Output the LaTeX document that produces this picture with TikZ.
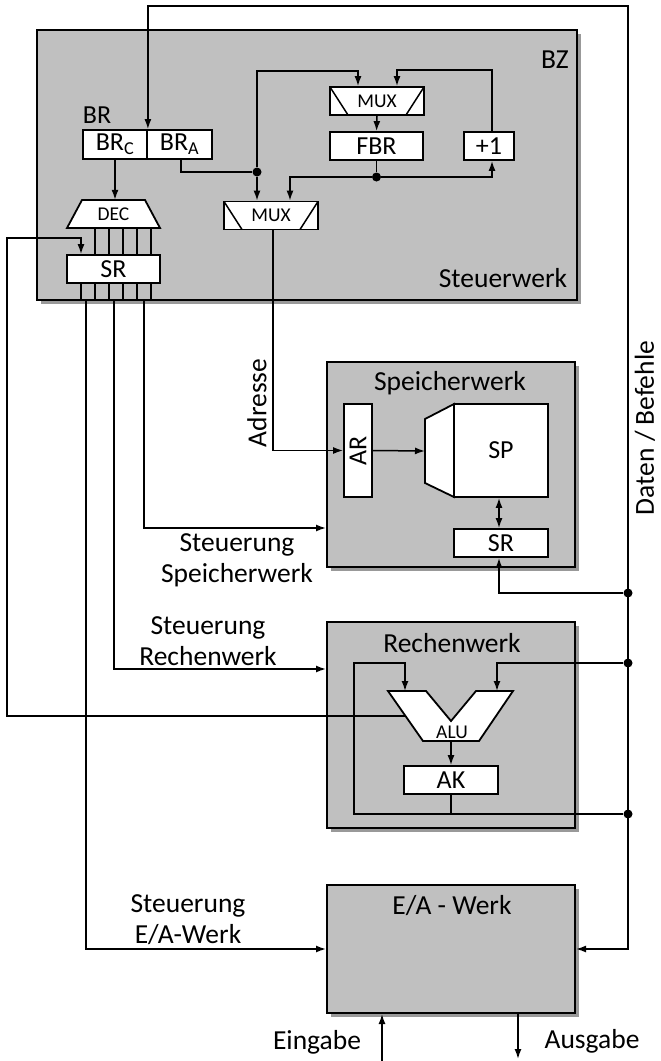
\documentclass[tikz,border=0pt]{standalone}
\usepackage{fontspec}
\setmainfont{Carlito}
\usepackage{graphicx}
\usepackage{tikz}
\usetikzlibrary{arrows.meta, positioning, shadows}
\usepackage{xcolor}

\definecolor{werkgray}{RGB}{192,192,192}
\newcommand{\labelfont}{\fontsize{27.5}{31}\selectfont}
\newcommand{\regfont}{\fontsize{26}{30}\selectfont}
\newcommand{\smallfont}{\fontsize{19.5}{22}\selectfont}

\begin{document}
\begin{tikzpicture}[
    x=1pt, y=-1pt,
    werk/.style={rectangle, draw, line width=2pt, fill=werkgray,
                 drop shadow={shadow xshift=4pt, shadow yshift=-4pt, fill=black!40, opacity=1}},
    reg/.style={rectangle, draw, line width=1.8pt, fill=white, inner sep=0pt, font=\regfont},
    mux/.style={reg, font=\smallfont, minimum width=94pt, minimum height=28pt,
                path picture={
                  \draw[line width=1.5pt] (path picture bounding box.north west) -- ([xshift=18pt]path picture bounding box.south west);
                  \draw[line width=1.5pt] (path picture bounding box.north east) -- ([xshift=-18pt]path picture bounding box.south east);}},
    outline/.style={draw, line width=1.8pt, fill=white},
    lbl/.style={font=\labelfont, inner sep=0pt, align=center},
    wire/.style={line width=1.5pt},
    arrow/.style={wire, -{Latex[length=10pt, width=7pt]}},
    biarrow/.style={wire, {Latex[length=10pt, width=7pt]}-{Latex[length=10pt, width=7pt]}},
    junction/.style={circle, fill, inner sep=0pt, minimum size=9pt}
]
\useasboundingbox (0,0) rectangle (661,1061);

% Werke
\node[werk, minimum width=540pt, minimum height=270pt] (stw) at (307,165) {};
\node[werk, minimum width=248pt, minimum height=205pt] (spw) at (451,464.5) {};
\node[werk, minimum width=248pt, minimum height=206pt] (rw) at (451,725) {};
\node[werk, minimum width=248pt, minimum height=128pt] (eaw) at (451,949) {};

\node[lbl] at (555,60) {BZ};
\node[lbl] at (503,278) {Steuerwerk};
\node[lbl] at (450,383) {Speicherwerk};
\node[lbl] at (452,643) {Rechenwerk};
\node[lbl] at (452,906) {E/A - Werk};

% Steuerwerk
\node[lbl, font=\regfont] at (97,115) {BR};
\node[reg, minimum width=64pt, minimum height=29pt] (brc) at (115,144.5) {BR\textsubscript{C}};
\node[reg, minimum width=65pt, minimum height=29pt] (bra) at (179.5,144.5) {BR\textsubscript{A}};

\node[mux] (muxa) at (377,101) {MUX};
\node[reg, minimum width=93pt, minimum height=28pt] (fbr) at (376.5,146) {FBR};
\node[reg, minimum width=50pt, minimum height=28pt] (inc) at (489,146) {+1};
\node[mux] (muxb) at (271,215.5) {MUX};

\draw[outline] (82,200) -- (145,200) -- (160,228) -- (67,228) -- cycle;
\node[font=\smallfont, inner sep=0pt, minimum width=93pt, minimum height=28pt] (dec) at (113.5,214) {DEC};
\node[reg, minimum width=93pt, minimum height=28pt] (srs) at (113.5,269) {SR};

\foreach \x in {95,109,123,137,151}
    \draw[wire] (\x,228) -- (\x,255);
\foreach \x in {81,95,109,123,137,151}
    \draw[wire] (\x,283) -- (\x,300);

\node[junction] (j4) at (257,172) {};
\node[junction] (j5) at (376.5,177) {};

\draw[arrow] (brc.south) -- (brc.south |- dec.north);
\draw[wire] ([xshift=1.5pt]bra.south) |- (j4);
\draw[arrow] (j4) -- (257,71) -| ([xshift=-19pt]muxa.north);
\draw[arrow] (j4) -- (j4 |- muxb.north);
\draw[arrow] (muxa.south) -- (fbr.north);
\draw[wire] (fbr.south) -- (j5);
\draw[arrow] (j5) -| ([xshift=3pt]inc.south);
\draw[arrow] (j5) -| ([xshift=19pt]muxb.north);
\draw[arrow] ([xshift=3pt]inc.north) -- ++(0,-61) -| ([xshift=20pt]muxa.north);

% Speicherwerk
\node[reg, minimum width=28pt, minimum height=93pt] (ar) at (358,450.5) {\rotatebox{90}{AR}};
\draw[outline] (425,419) -- (454,404) -- (454,497) -- (425,483) -- cycle;
\coordinate (spdec) at (425,451);
\node[reg, minimum width=94pt, minimum height=93pt] (sp) at (501,450.5) {SP};
\node[reg, minimum width=94pt, minimum height=28pt] (srm) at (501,543) {SR};

\draw[arrow] (ar.east) -- (spdec);
\draw[biarrow] ([xshift=-2pt]sp.south) -- ([xshift=-2pt]srm.north);
\draw[arrow] ([xshift=2pt]muxb.south) |- (ar.west);
\node[lbl, rotate=90] at (257,403) {Adresse};

% Rechenwerk
\draw[outline] (388,691) -- (426,691) -- (451,721) -- (476,691) -- (513,691)
    -- (479,741) -- (423,741) -- cycle;
\node[font=\smallfont, inner sep=0pt] (alu) at (452,732) {ALU};
\coordinate (alul) at (405,716);
\coordinate (alua) at (405,691);
\coordinate (alub) at (497,691);
\coordinate (aluout) at (451,741);
\node[reg, minimum width=94pt, minimum height=28pt] (ak) at (451,780) {AK};
\coordinate (akout) at (451,814);

\draw[arrow] (aluout) -- (ak.north);
\draw[arrow] (ak.south) -- (akout) -| (354,663) -| (alua);

% Daten / Befehle
\node[junction] (j1) at (628,593) {};
\node[junction] (j2) at (628,663) {};
\node[junction] (j3) at (628,814) {};
\draw[biarrow] (eaw.east) -- (628,949) -- (628,6) -| (brc.north east);
\draw[arrow] (j1) -| ([xshift=-2pt]srm.south);
\draw[arrow] (j2) -| (alub);
\draw[wire] (akout) -- (j3);
\node[lbl, rotate=90] at (645,428) {Daten / Befehle};

% Steuerleitungen
\coordinate (cS) at (144,300);
\coordinate (cR) at (114,300);
\coordinate (cE) at (86,300);
\draw[arrow] (cS) |- ([yshift=-63.5pt]spw.west);
\draw[arrow] (cR) |- ([yshift=56pt]rw.west);
\draw[arrow] (cE) |- (eaw.west);
\draw[arrow] (alul) -| (7,238) -| ([xshift=-32.5pt]srs.north);

\node[lbl] at (237,560) {Steuerung\\Speicherwerk};
\node[lbl] at (208,641) {Steuerung\\Rechenwerk};
\node[lbl] at (188,920) {Steuerung\\E/A-Werk};

% E/A
\coordinate (ein) at (382,1061);
\coordinate (aus) at (518,1059);
\draw[arrow] (ein) -- (ein |- eaw.south);
\draw[arrow] (aus |- eaw.south) -- (aus);
\node[lbl] at (317,1042) {Eingabe};
\node[lbl] at (592,1041) {Ausgabe};

\end{tikzpicture}
\end{document}
